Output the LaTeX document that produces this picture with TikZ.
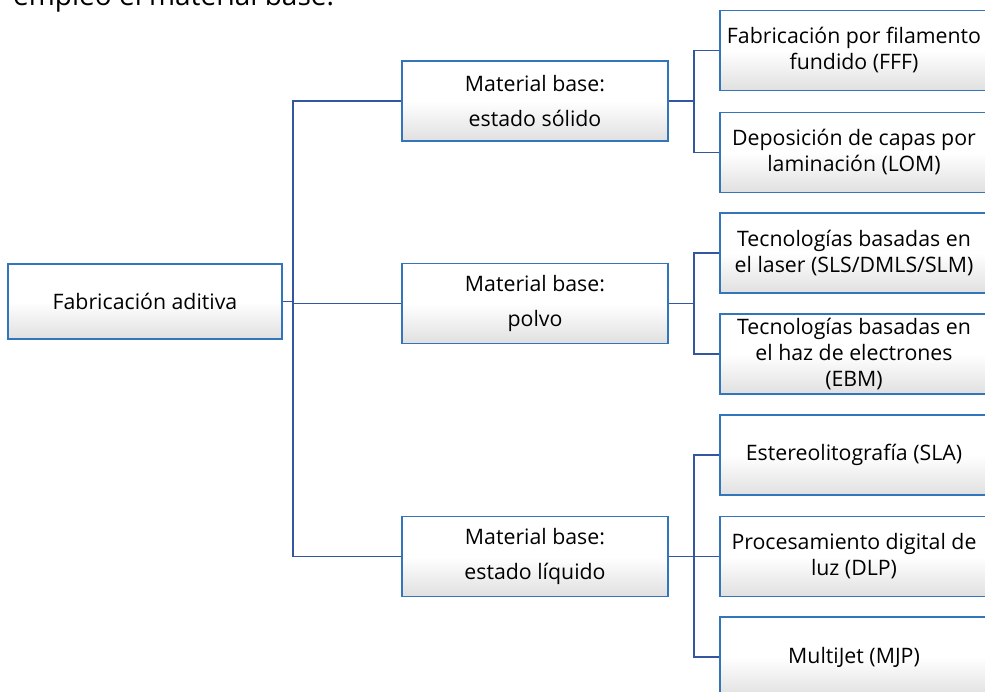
\documentclass[tikz,border=0pt]{standalone}
\usepackage{fontspec}
\setmainfont{Open Sans}
\definecolor{boxblue}{RGB}{50,117,186}
\definecolor{lineblue}{RGB}{52,86,158}
\definecolor{shadegray}{RGB}{224,224,224}
\begin{document}
\begin{tikzpicture}[x=1pt,y=-1pt,
  box/.style={draw=boxblue,line width=1.8pt,top color=white,bottom color=shadegray,middle color=white,
    rectangle,inner sep=0pt,align=center,text=black},
  rootbox/.style={box,minimum width=274pt,minimum height=75pt,font=\fontsize{21.3}{26}\selectfont},
  midbox/.style={box,minimum width=266pt,minimum height=80pt,font=\fontsize{21.3}{35}\selectfont},
  leafbox/.style={box,minimum width=268pt,minimum height=80pt,font=\fontsize{21.3}{26}\selectfont},
  conn/.style={draw=lineblue,line width=1.3pt}]
\useasboundingbox (0,0) rectangle (985,692);
\node[anchor=base west,inner sep=0pt,font=\fontsize{28}{32}\selectfont] (intro) at (13,6) {empleo el material base:};

\node[rootbox] (root) at (145,301.5) {Fabricación aditiva};

\node[midbox] (m1) at (535,101) {Material base:\\estado sólido};
\node[midbox] (m2) at (535,303.5) {Material base:\\polvo};
\node[midbox] (m3) at (535,556.5) {Material base:\\estado líquido};

\node[leafbox] (l1) at (854,50.5) {Fabricación por filamento\\fundido (FFF)};
\node[leafbox] (l2) at (854,152.5) {Deposición de capas por\\laminación (LOM)};
\node[leafbox] (l3) at (854,253) {Tecnologías basadas en\\el laser (SLS/DMLS/SLM)};
\node[leafbox] (l4) at (854,354) {Tecnologías basadas en\\el haz de electrones\\(EBM)};
\node[leafbox] (l5) at (854,455) {Estereolitografía (SLA)};
\node[leafbox] (l6) at (854,556.5) {Procesamiento digital de\\luz (DLP)};
\node[leafbox] (l7) at (854,657) {MultiJet (MJP)};

\coordinate (t0) at (293,301.5);
\coordinate (t1) at (694,101);
\coordinate (t2) at (694,303.5);
\coordinate (t3) at (694,556.5);

\draw[conn] (root.east) -- (t0);
\draw[conn] (t0) |- (m1.west);
\draw[conn] (t0) |- (m2.west);
\draw[conn] (t0) |- (m3.west);

\draw[conn] (m1.east) -- (t1);
\draw[conn] (t1) |- (l1.west);
\draw[conn] (t1) |- (l2.west);

\draw[conn] (m2.east) -- (t2);
\draw[conn] (t2) |- (l3.west);
\draw[conn] (t2) |- (l4.west);

\draw[conn] (m3.east) -- (t3);
\draw[conn] (t3) |- (l5.west);
\draw[conn] (t3) |- (l6.west);
\draw[conn] (t3) |- (l7.west);
\end{tikzpicture}
\end{document}
